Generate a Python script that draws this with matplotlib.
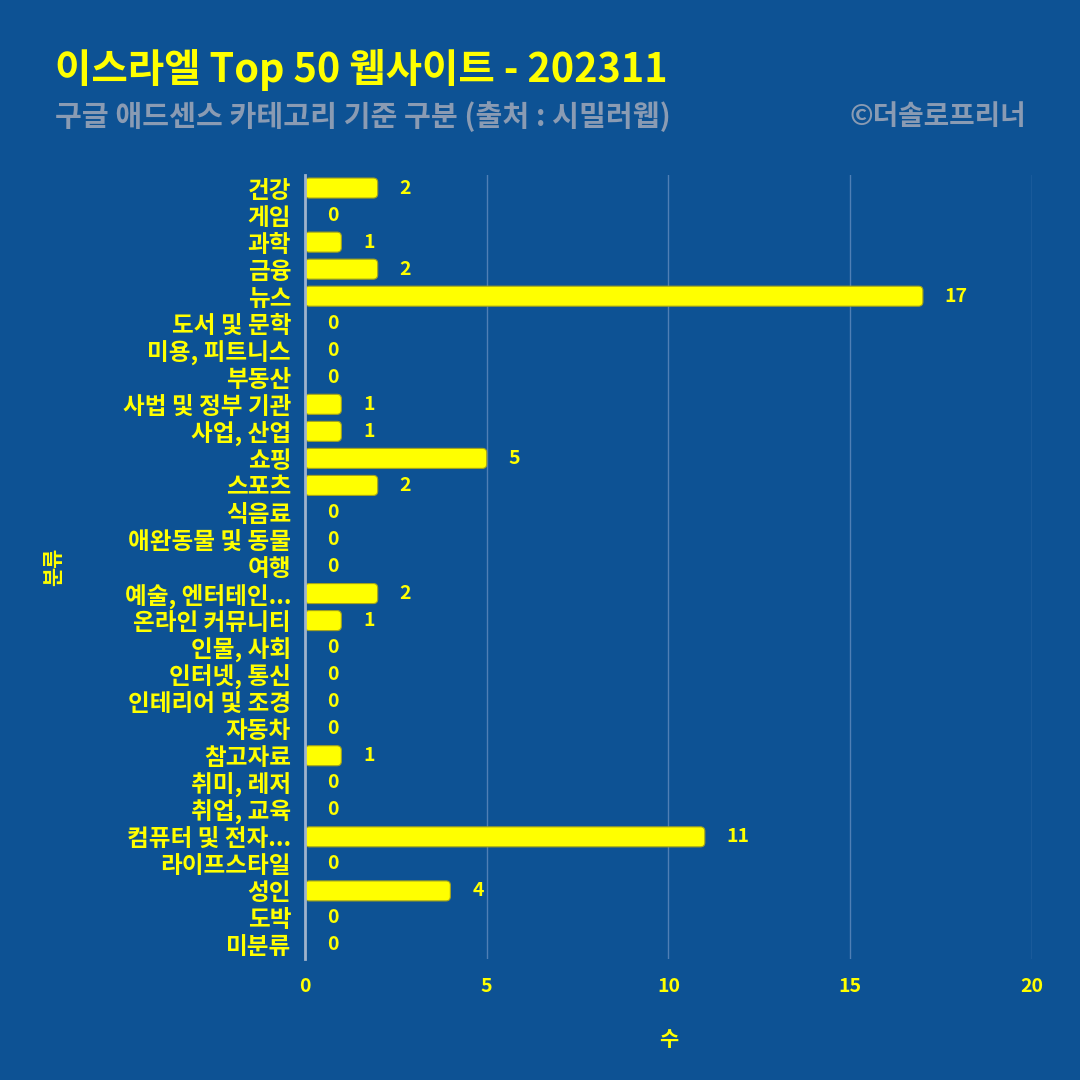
import matplotlib
matplotlib.use('Agg')
import matplotlib.pyplot as plt
from matplotlib.patches import FancyBboxPatch

plt.rcParams['font.family'] = ['Noto Sans CJK KR', 'DejaVu Sans']

# 카테고리별 사이트 수
categories = ['건강', '게임', '과학', '금융', '뉴스', '도서 및 문학', '미용, 피트니스', '부동산',
              '사법 및 정부 기관', '사업, 산업', '쇼핑', '스포츠', '식음료', '애완동물 및 동물', '여행',
              '예술, 엔터테인...', '온라인 커뮤니티', '인물, 사회', '인터넷, 통신', '인테리어 및 조경',
              '자동차', '참고자료', '취미, 레저', '취업, 교육', '컴퓨터 및 전자...', '라이프스타일',
              '성인', '도박', '미분류']
counts = [2, 0, 1, 2, 17, 0, 0, 0, 1, 1, 5, 2, 0, 0, 0, 2, 1, 0, 0, 0, 0, 1, 0, 0, 11, 0, 4, 0, 0]
xticks = [0, 5, 10, 15, 20]

bg = '#0d5294'
yellow = '#ffff00'
gray = '#8a9bb3'

fig = plt.figure(figsize=(10.8, 10.8), dpi=100, facecolor=bg)
ax = fig.add_axes([0.2824, 0.1125, 0.6731, 0.7259], facecolor=bg)

y = list(range(len(categories)))
bars = ax.barh(y, counts, height=0.74, color=yellow, zorder=3)
# 막대 끝을 둥글게
for b in bars:
    b.set_visible(False)
    if b.get_width() <= 0:
        continue
    ax.add_patch(FancyBboxPatch((b.get_x(), b.get_y()), b.get_width(), b.get_height(),
                                boxstyle='round,pad=0,rounding_size=0.12',
                                mutation_aspect=1.34, facecolor=yellow,
                                edgecolor='#a3a31c', linewidth=0.8, zorder=3))

for yi, v in zip(y, counts):
    ax.text(v + 0.6, yi, str(v), color=yellow, fontsize=14, fontweight='bold',
            ha='left', va='center', zorder=4)

ax.set_xlim(0, 20)
ax.set_ylim(len(categories) - 0.5, -0.5)
ax.set_yticks(y)
ax.set_yticklabels(categories, color=yellow, fontsize=17, fontweight='bold')
ax.set_xticks(xticks)
ax.set_xticklabels([str(t) for t in xticks], color=yellow, fontsize=14, fontweight='bold')
ax.tick_params(axis='y', length=0, pad=10)
ax.tick_params(axis='x', length=0, pad=13)

for s in ['top', 'right', 'bottom']:
    ax.spines[s].set_visible(False)
ax.spines['left'].set_color('#9fb3cc')
ax.spines['left'].set_linewidth(2)
ax.spines['left'].set_zorder(5)
ax.grid(axis='x', color='#4f7fb5', linewidth=1, zorder=0)
ax.set_axisbelow(True)

ax.set_xlabel('수', color=yellow, fontsize=15, fontweight='bold', labelpad=24)
ax.set_ylabel('분류', color=yellow, fontsize=15, fontweight='bold', labelpad=42)

fig.text(0.051, 0.935, '이스라엘 Top 50 웹사이트 - 202311', color=yellow, fontsize=28.5,
         fontweight='bold', ha='left', va='center')
fig.text(0.051, 0.892, '구글 애드센스 카테고리 기준 구분 (출처 : 시밀러웹)', color=gray, fontsize=21,
         fontweight='bold', ha='left', va='center')
fig.text(0.95, 0.892, '©더솔로프리너', color=gray, fontsize=20, fontweight='bold',
         ha='right', va='center')

fig.savefig('out.png', dpi=100, facecolor=bg)
